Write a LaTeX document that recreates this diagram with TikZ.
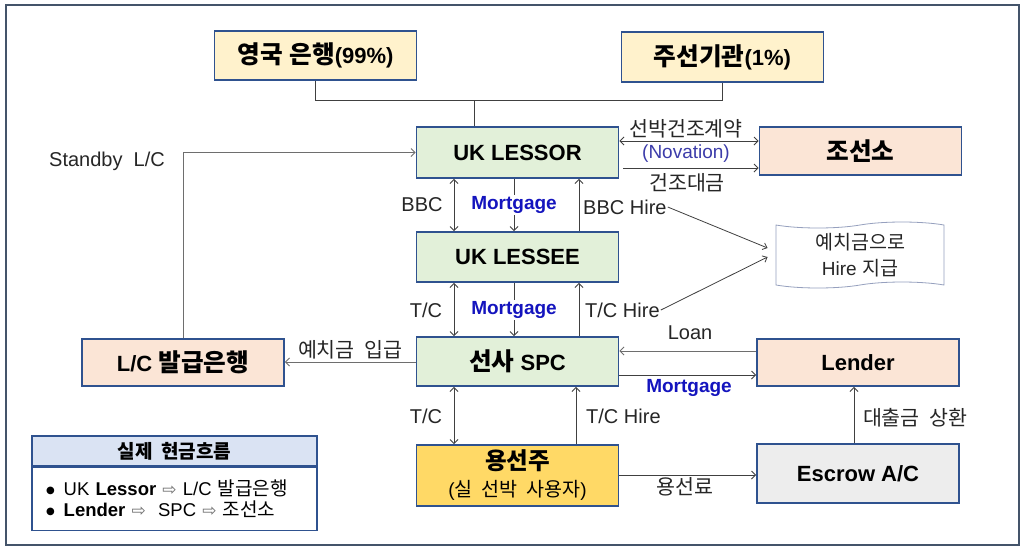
\documentclass[tikz,border=0pt]{standalone}
\usepackage{fontspec}
\usetikzlibrary{arrows.meta,shapes.symbols}
\setmainfont{Liberation Sans}
\newfontfamily\kr[Scale=1.03,WordSpace=2.0]{Noto Sans CJK KR}
\newfontfamily\krb[Scale=1.12,WordSpace=1.2]{Noto Sans CJK KR}
\newfontfamily\sym{DejaVu Sans}
\definecolor{frameblue}{RGB}{68,84,106}
\definecolor{boxedge}{RGB}{47,82,143}
\definecolor{yellowfill}{RGB}{255,242,204}
\definecolor{greenfill}{RGB}{226,240,217}
\definecolor{peachfill}{RGB}{251,229,214}
\definecolor{goldfill}{RGB}{255,217,102}
\definecolor{grayfill}{RGB}{237,237,237}
\definecolor{headfill}{RGB}{218,227,243}
\definecolor{linegray}{RGB}{64,64,64}
\definecolor{midgray}{RGB}{110,110,110}
\definecolor{mortblue}{RGB}{20,20,190}
\definecolor{novblue}{RGB}{60,60,170}
\definecolor{tapeedge}{RGB}{150,160,190}
\newcommand{\flowarrow}{{\sym\color{midgray}\fontsize{17}{21}\selectfont ⇨}}
\newcommand{\dotitem}{\raisebox{2.5pt}{\sym\fontsize{10}{21}\selectfont ●}\hspace{9pt}}
\begin{document}
\begin{tikzpicture}[x=1pt,y=-1pt,
  box/.style={draw=boxedge,line width=1.6pt,minimum width=202pt,inner sep=0pt,
    align=center,font=\fontsize{22}{26}\selectfont\bfseries},
  lab/.style={inner sep=1pt,font=\fontsize{20}{24}\selectfont,text=black!85},
  mort/.style={inner sep=1pt,fill=white,text=mortblue,font=\fontsize{19}{20}\selectfont\bfseries},
  plain/.style={draw=linegray,line width=1pt},
  arr/.style={plain,-{Straight Barb[length=4pt,width=8pt]}},
  darr/.style={plain,{Straight Barb[length=4pt,width=8pt]}-{Straight Barb[length=4pt,width=8pt]}},
  thin/.style={draw=linegray,line width=0.8pt,-{Straight Barb[length=4pt,width=7pt]}}]
\useasboundingbox (0,0) rectangle (1024,547);
\fill[white] (0,0) rectangle (1024,547);
\draw[draw=frameblue,line width=1.2pt] (6,5) rectangle (1019,545);

% boxes
\node[box,fill=yellowfill,minimum height=49pt] (eng) at (315.5,55.5) {{\krb 영국 은행}(99\%)};
\node[box,fill=yellowfill,minimum height=50pt] (jus) at (722.5,57) {{\krb 주선기관}(1\%)};
\node[box,fill=greenfill,minimum height=51pt] (lessor) at (517.5,152.5) {UK LESSOR};
\node[box,fill=greenfill,minimum height=50pt] (lessee) at (517.5,257) {UK LESSEE};
\node[box,fill=greenfill,minimum height=49pt] (spc) at (517.5,361.5) {{\krb 선사} SPC};
\node[box,fill=goldfill,minimum height=61pt,font=\fontsize{21}{27}\selectfont\bfseries] (yong) at (517.5,475.5)
  {{\krb 용선주}\\{\mdseries\fontsize{19}{27}\selectfont({\kr 실 선박 사용자})}};
\node[box,fill=peachfill,minimum height=48pt] (joseon) at (860.5,151) {\krb 조선소};
\node[box,fill=peachfill,minimum height=47pt] (lender) at (858,362.5) {Lender};
\node[box,fill=grayfill,minimum height=59pt] (escrow) at (858,473.5) {Escrow A/C};
\node[box,fill=peachfill,minimum height=47pt] (lcbank) at (183,362.5) {L/C {\krb 발급은행}};
\node[tape,draw=tapeedge,line width=0.8pt,fill=white,minimum width=168pt,minimum height=66pt,
  tape bend top=in and out,tape bend bottom=in and out,tape bend height=6pt,inner sep=0pt,
  align=center,font=\fontsize{19}{26}\selectfont,text=black!85] (dep) at (860,255)
  {{\kr 예치금으로}\\Hire {\kr 지급}};

% summary box
\node[draw=boxedge,line width=1.6pt,fill=headfill,minimum width=285pt,minimum height=30pt,inner sep=0pt,
  font=\fontsize{18.5}{22}\selectfont\bfseries] (sumhead) at (174.5,451) {\kr 실제 현금흐름};
\node[draw=boxedge,line width=1.6pt,fill=white,minimum width=285pt,minimum height=63pt,anchor=north,
  inner xsep=14pt,inner ysep=0pt,text width=257pt,align=left,font=\fontsize{18.5}{21}\selectfont] (sumbody) at (sumhead.south)
  {\dotitem UK \textbf{Lessor} \flowarrow{} L/C {\kr 발급은행}\\
   \dotitem\textbf{Lender} \flowarrow\ \ SPC \flowarrow{} {\kr 조선소}};

% ownership lines
\coordinate (junc) at (474,100);
\draw[plain] (eng.south) |- (jus.south |- junc) -- (jus.south);
\draw[plain] (junc) -- (junc |- lessor.north);

% standby L/C
\draw[arr,draw=midgray] (lcbank.north) |- (lessor.west);

% lessor - lessee
\draw[darr] ([xshift=-63.5pt]lessor.south) -- ([xshift=-63.5pt]lessee.north);
\draw[arr] ([xshift=-3.5pt]lessor.south) -- ([xshift=-3.5pt]lessee.north);
\draw[arr] ([xshift=61.5pt]lessee.north) -- ([xshift=61.5pt]lessor.south);

% lessee - spc
\draw[darr] ([xshift=-63.5pt]lessee.south) -- ([xshift=-63.5pt]spc.north);
\draw[arr] ([xshift=-3.5pt]lessee.south) -- ([xshift=-3.5pt]spc.north);
\draw[arr] ([xshift=61.5pt]spc.north) -- ([xshift=61.5pt]lessee.south);

% spc - charterer
\draw[darr] ([xshift=-63.5pt]spc.south) -- ([xshift=-63.5pt]yong.north);
\draw[arr] ([xshift=58.5pt]yong.north) -- ([xshift=58.5pt]spc.south);

% horizontal flows
\coordinate (yContract) at (0,141);
\coordinate (yBuild) at (0,168);
\coordinate (yDeposit) at (0,362);
\coordinate (yLoan) at (0,351);
\coordinate (yMort) at (0,375);
\coordinate (yFee) at (0,475);
\draw[darr] (lessor.east |- yContract) -- (joseon.west |- yContract);
\draw[arr] ([xshift=4pt]lessor.east |- yBuild) -- (joseon.west |- yBuild);
\draw[arr,draw=midgray] (spc.west |- yDeposit) -- (lcbank.east |- yDeposit);
\draw[arr,draw=midgray] (lender.west |- yLoan) -- (spc.east |- yLoan);
\draw[arr] (spc.east |- yMort) -- (lender.west |- yMort);
\draw[arr] (yong.east |- yFee) -- (escrow.west |- yFee);
\draw[arr] ([xshift=-4pt]escrow.north) -- ([xshift=-4pt]lender.south);

% labels
\node[lab] (standby) at (107,161) {Standby\ \ L/C};
\node[lab] (bbc) at (422,205) {BBC};
\node[mort] (mort1) at (514,205) {Mortgage};
\node[lab,anchor=west] (bbchire) at (582,207) {BBC Hire};
\node[lab] (tc1) at (426,310) {T/C};
\node[mort] (mort2) at (514,310) {Mortgage};
\node[lab,anchor=west] (tchire1) at (584,310) {T/C Hire};
\node[lab] (loan) at (690,333) {Loan};
\node[mort,fill=none] (mort3) at (689,388) {Mortgage};
\node[lab] (tc2) at (426,416) {T/C};
\node[lab,anchor=west] (tchire2) at (585,416) {T/C Hire};
\node[lab] (repay) at (915,418) {\kr 대출금 상환};
\node[lab] (fee) at (685,487) {\kr 용선료};
\node[lab] (depin) at (350,350) {\kr 예치금 입급};
\node[lab] (contract) at (686,129) {\kr 선박건조계약};
\node[lab,text=novblue,font=\fontsize{19}{22}\selectfont] (novation) at (686,154) {(Novation)};
\node[lab] (buildpay) at (687,183) {\kr 건조대금};

% hire paid from deposit
\draw[thin] (bbchire.east) -- ([xshift=-8pt,yshift=7pt]dep.west);
\draw[thin] (tchire1.east) -- ([xshift=-8pt,yshift=-2pt]dep.west);
\end{tikzpicture}
\end{document}
